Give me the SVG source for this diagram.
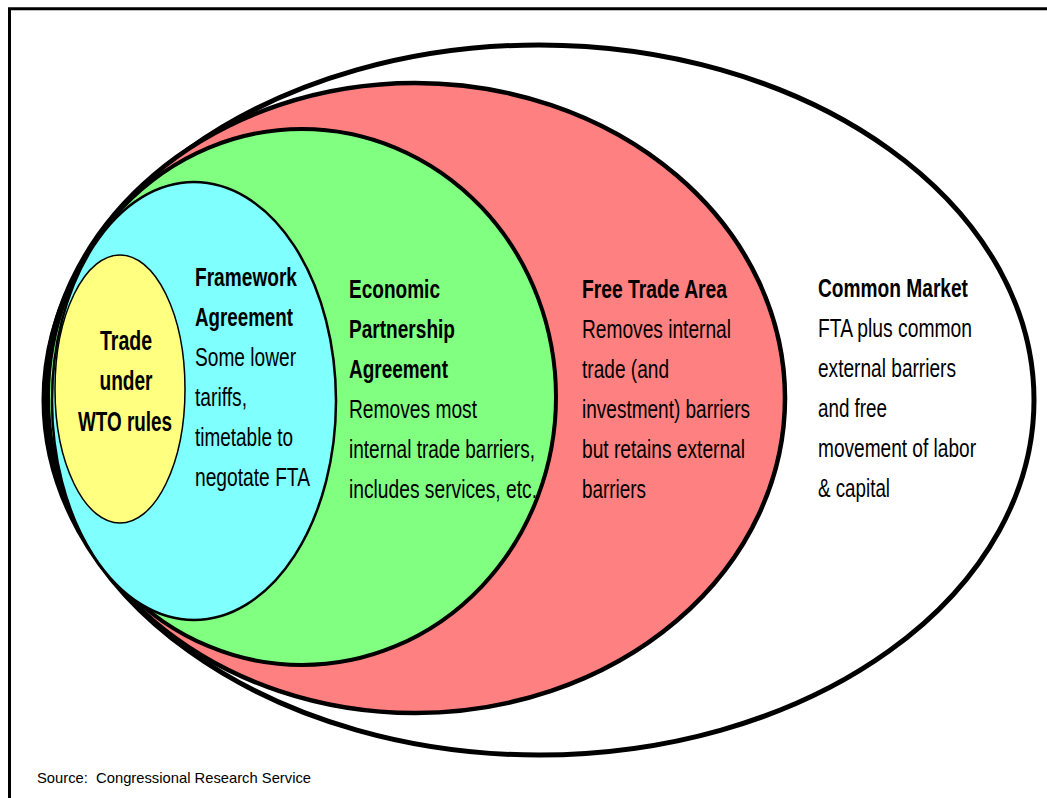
<svg xmlns="http://www.w3.org/2000/svg" width="1047" height="798" viewBox="0 0 1047 798">
<style>
.t{font-family:"Liberation Sans",Arial,sans-serif;font-size:25.5px;fill:#000}
.b{font-weight:bold}
.y{font-size:28px}
.src{font-family:"Liberation Sans",Arial,sans-serif;font-size:14.5px;fill:#000}
ellipse{stroke:#000}
</style>
<rect width="1047" height="798" fill="#fff"/>
<path d="M9.5,800 V8.7 H1050" fill="none" stroke="#000" stroke-width="3"/>
<g id="common-market">
<ellipse cx="539" cy="400" rx="495" ry="355" fill="#fff" stroke-width="5"/>
</g>
<g id="free-trade-area">
<ellipse cx="415" cy="398" rx="370" ry="315" fill="#FF8080" stroke-width="4.5"/>
</g>
<g id="economic-partnership">
<ellipse cx="302" cy="397" rx="254" ry="268" fill="#80FF80" stroke-width="4"/>
</g>
<g id="framework">
<ellipse cx="194" cy="401" rx="142" ry="219" fill="#80FFFF" stroke-width="2.5"/>
</g>
<g id="wto">
<ellipse cx="120" cy="389" rx="65" ry="134" fill="#FFFF80" stroke-width="1.5"/>
</g>
<g id="labels">
<text class="t b y" x="126" y="350" text-anchor="middle" textLength="52" lengthAdjust="spacingAndGlyphs">Trade</text>
<text class="t b y" x="126" y="390" text-anchor="middle" textLength="53" lengthAdjust="spacingAndGlyphs">under</text>
<text class="t b y" x="125" y="431" text-anchor="middle" textLength="94" lengthAdjust="spacingAndGlyphs">WTO rules</text>

<text class="t b" x="195" y="286" textLength="102" lengthAdjust="spacingAndGlyphs">Framework</text>
<text class="t b" x="195" y="326" textLength="98" lengthAdjust="spacingAndGlyphs">Agreement</text>
<text class="t" x="195" y="366" textLength="101" lengthAdjust="spacingAndGlyphs">Some lower</text>
<text class="t" x="195" y="406" textLength="52" lengthAdjust="spacingAndGlyphs">tariffs,</text>
<text class="t" x="195" y="446" textLength="98" lengthAdjust="spacingAndGlyphs">timetable to</text>
<text class="t" x="195" y="486" textLength="115" lengthAdjust="spacingAndGlyphs">negotate FTA</text>

<text class="t b" x="349" y="298" textLength="91" lengthAdjust="spacingAndGlyphs">Economic</text>
<text class="t b" x="349" y="338" textLength="106" lengthAdjust="spacingAndGlyphs">Partnership</text>
<text class="t b" x="349" y="378" textLength="99" lengthAdjust="spacingAndGlyphs">Agreement</text>
<text class="t" x="349" y="418" textLength="128" lengthAdjust="spacingAndGlyphs">Removes most</text>
<text class="t" x="349" y="458" textLength="186" lengthAdjust="spacingAndGlyphs">internal trade barriers,</text>
<text class="t" x="349" y="498" textLength="188" lengthAdjust="spacingAndGlyphs">includes services, etc.</text>

<text class="t b" x="582" y="298" textLength="145" lengthAdjust="spacingAndGlyphs">Free Trade Area</text>
<text class="t" x="582" y="338" textLength="149" lengthAdjust="spacingAndGlyphs">Removes internal</text>
<text class="t" x="582" y="378" textLength="87" lengthAdjust="spacingAndGlyphs">trade (and</text>
<text class="t" x="582" y="418" textLength="168" lengthAdjust="spacingAndGlyphs">investment) barriers</text>
<text class="t" x="582" y="458" textLength="163" lengthAdjust="spacingAndGlyphs">but retains external</text>
<text class="t" x="582" y="498" textLength="64" lengthAdjust="spacingAndGlyphs">barriers</text>

<text class="t b" x="818" y="297" textLength="150" lengthAdjust="spacingAndGlyphs">Common Market</text>
<text class="t" x="818" y="337" textLength="154" lengthAdjust="spacingAndGlyphs">FTA plus common</text>
<text class="t" x="818" y="377" textLength="138" lengthAdjust="spacingAndGlyphs">external barriers</text>
<text class="t" x="818" y="417" textLength="69" lengthAdjust="spacingAndGlyphs">and free</text>
<text class="t" x="818" y="457" textLength="158" lengthAdjust="spacingAndGlyphs">movement of labor</text>
<text class="t" x="818" y="497" textLength="72" lengthAdjust="spacingAndGlyphs">&amp; capital</text>
</g>
<text class="src" x="37" y="783" xml:space="preserve" textLength="274" lengthAdjust="spacingAndGlyphs">Source:  Congressional Research Service</text>
</svg>
